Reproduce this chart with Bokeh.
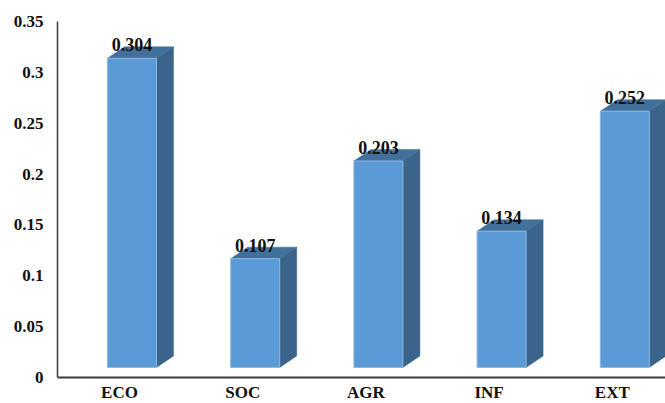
from bokeh.plotting import figure
from bokeh.models import Range1d, FixedTicker, Span, ColumnDataSource
from bokeh.core.properties import value
from bokeh.embed import file_html
from bokeh.resources import INLINE

# ---- data ----
categories = ["ECO", "SOC", "AGR", "INF", "EXT"]
values = [0.304, 0.107, 0.203, 0.134, 0.252]
value_labels = ["0.304", "0.107", "0.203", "0.134", "0.252"]
y_ticks = [0, 0.05, 0.1, 0.15, 0.2, 0.25, 0.3, 0.35]
y_tick_labels = ["0", "0.05", "0.1", "0.15", "0.2", "0.25", "0.3", "0.35"]

# ---- layout constants (pixels) ----
W, H = 665, 403
LEFT, TOP = 57, 21
PX_X = 123.2      # pixels per category step
PX_Y = 1017.0     # pixels per value unit
ZERO_Y = 377      # canvas y of value 0
CAT0_X = 119      # canvas x of first category centre

x_start = (LEFT - CAT0_X) / PX_X
x_end = (W - CAT0_X) / PX_X
y_end = 0.35
y_start = y_end - (H - TOP) / PX_Y

# 3D bar geometry in data units
front_off = -12 / PX_X
front_w = 49 / PX_X
depth_x = 17 / PX_X
depth_y = 11.5 / PX_Y
lift = 10 / PX_Y

FONT = "Liberation Serif"
FRONT = "#5B9BD5"
SIDE = "#3A6489"
TOPC = "#41709B"

idx = list(range(len(categories)))
lefts = [i + front_off for i in idx]
rights = [l + front_w for l in lefts]
bottoms = [lift] * len(idx)
tops = [v + lift for v in values]

side_xs = [[r, r + depth_x, r + depth_x, r] for r in rights]
side_ys = [[b, b + depth_y, t + depth_y, t] for b, t in zip(bottoms, tops)]
top_xs = [[l, l + depth_x, r + depth_x, r] for l, r in zip(lefts, rights)]
top_ys = [[t, t + depth_y, t + depth_y, t] for t in tops]

p = figure(width=W, height=H, output_backend="svg", toolbar_location=None,
           x_range=Range1d(x_start, x_end), y_range=Range1d(y_start, y_end),
           x_axis_location=None, min_border_left=LEFT, min_border_top=TOP,
           min_border_right=0, min_border_bottom=0)
p.outline_line_color = None
p.xgrid.visible = False
p.ygrid.visible = False
p.background_fill_color = "white"
p.border_fill_color = "white"

# bars
p.patches(side_xs, side_ys, fill_color=SIDE, line_color=SIDE, line_width=0.5)
p.patches(top_xs, top_ys, fill_color=TOPC, line_color=TOPC, line_width=0.5)
p.quad(left=lefts, right=rights, bottom=bottoms, top=tops,
       fill_color=FRONT, line_color="#8DB6E0", line_width=1)

# value labels
lab_src = ColumnDataSource(dict(x=[(l + r) / 2 for l, r in zip(lefts, rights)],
                                y=[t + depth_y for t in tops], text=value_labels))
p.text(x="x", y="y", text="text", source=lab_src, text_align="center",
       text_baseline="alphabetic", y_offset=-2, text_font=value(FONT),
       text_font_style="bold", text_font_size="18px", text_color="#111111")

# x axis line & category labels
p.add_layout(Span(location=0, dimension="width", line_color="#3a3a3a", line_width=2))
cat_src = ColumnDataSource(dict(x=idx, y=[0] * len(idx), text=categories))
p.text(x="x", y="y", text="text", source=cat_src, text_align="center",
       text_baseline="top", y_offset=6, text_font=value(FONT),
       text_font_style="bold", text_font_size="17px", text_color="#111111")

# y axis
ya = p.yaxis[0]
ya.ticker = FixedTicker(ticks=y_ticks)
ya.major_label_overrides = {t: s for t, s in zip(y_ticks, y_tick_labels)}
ya.bounds = (0, 0.35)
ya.axis_line_color = "#3a3a3a"
ya.axis_line_width = 1.5
ya.major_tick_line_color = None
ya.minor_tick_line_color = None
ya.major_tick_out = 0
ya.major_tick_in = 0
ya.major_label_standoff = 14
ya.major_label_text_font = FONT
ya.major_label_text_font_style = "bold"
ya.major_label_text_font_size = "17px"
ya.major_label_text_color = "#111111"

open("out.html", "w").write(file_html(p, INLINE))
